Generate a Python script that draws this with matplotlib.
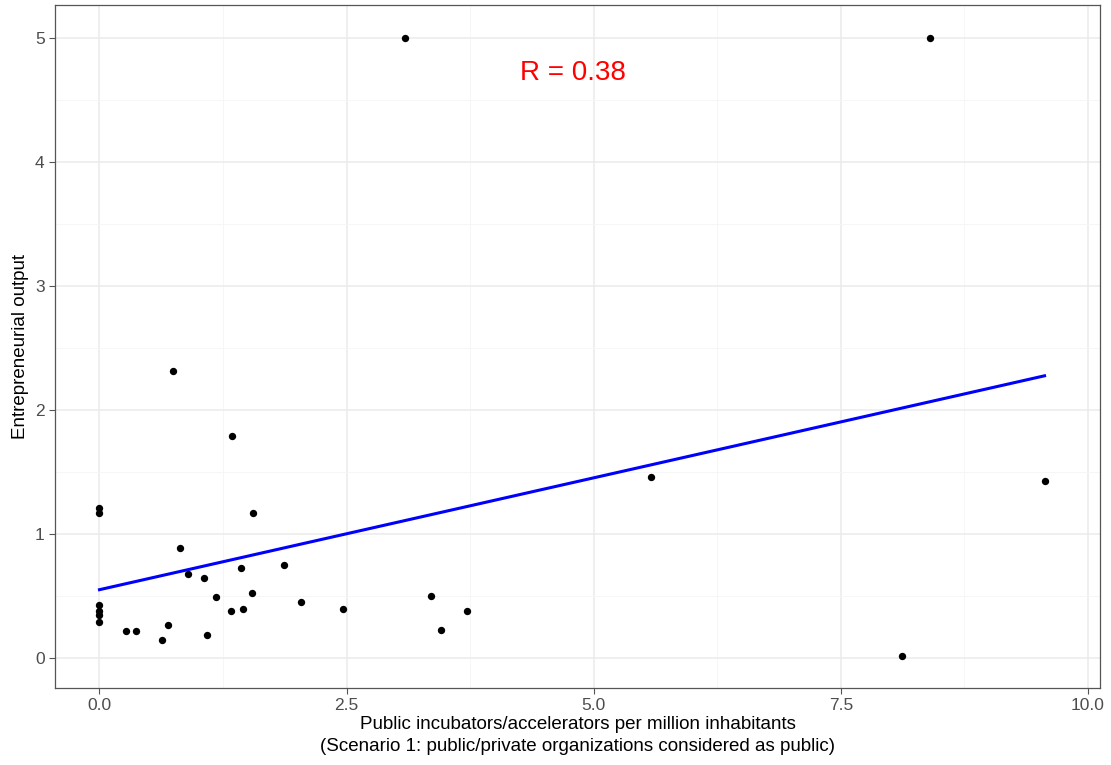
import numpy as np
import matplotlib
matplotlib.use("Agg")
import matplotlib.pyplot as plt
from matplotlib.ticker import MultipleLocator

plt.rcParams['font.family'] = ['Liberation Sans', 'DejaVu Sans']

# data
incubators = [0.0, 0.0, 0.0, 0.0, 0.0, 0.0,
              0.27, 0.37, 0.63, 0.69, 0.74, 0.81, 0.90, 1.06, 1.09,
              1.18, 1.33, 1.34, 1.43, 1.45, 1.54, 1.55, 1.87, 2.04,
              2.46, 3.09, 3.35, 3.45, 3.72, 5.58, 8.12, 8.40, 9.56]
output = [1.21, 1.17, 0.43, 0.38, 0.35, 0.29,
          0.22, 0.22, 0.15, 0.27, 2.32, 0.89, 0.68, 0.645, 0.19,
          0.49, 0.38, 1.79, 0.73, 0.395, 0.53, 1.17, 0.75, 0.45,
          0.40, 5.0, 0.50, 0.23, 0.38, 1.46, 0.02, 5.0, 1.43]
r_label = "R = 0.38"

x = np.array(incubators)
y = np.array(output)

fig = plt.figure(figsize=(11.11, 7.65), dpi=100)
ax = fig.add_axes([0.0495, 0.1007, 0.9405, 0.8928])

# linear fit
b, a = np.polyfit(x, y, 1)
xs = np.linspace(x.min(), x.max(), 100)
ax.plot(xs, a + b * xs, color='blue', lw=2.2, zorder=3)

ax.scatter(x, y, s=28, color='black', zorder=4, linewidths=0)

ax.text(4.79, 4.72, r_label, color='red', fontsize=20, ha='center', va='center')

ax.set_xlim(-0.45, 10.12)
ax.set_ylim(-0.24, 5.27)
ax.xaxis.set_major_locator(MultipleLocator(2.5))
ax.xaxis.set_minor_locator(MultipleLocator(1.25))
ax.yaxis.set_major_locator(MultipleLocator(1))
ax.yaxis.set_minor_locator(MultipleLocator(0.5))
ax.xaxis.set_major_formatter(plt.FuncFormatter(lambda v, p: f"{v:.1f}"))
ax.yaxis.set_major_formatter(plt.FuncFormatter(lambda v, p: f"{v:.0f}"))

ax.grid(True, which='major', color='#EBEBEB', lw=1.1)
ax.grid(True, which='minor', color='#F5F5F5', lw=0.6)
ax.set_axisbelow(True)
for s in ax.spines.values():
    s.set_color('#555555')
    s.set_linewidth(0.9)
ax.tick_params(which='major', length=4, color='#555555', labelsize=12.5, labelcolor='#4D4D4D')
ax.tick_params(which='minor', length=0)

ax.set_xlabel("Public incubators/accelerators per million inhabitants\n(Scenario 1: public/private organizations considered as public)",
              fontsize=13.5, labelpad=2, linespacing=1.35)
ax.set_ylabel("Entrepreneurial output", fontsize=13.5, labelpad=4)

fig.savefig("out.png", dpi=100)
